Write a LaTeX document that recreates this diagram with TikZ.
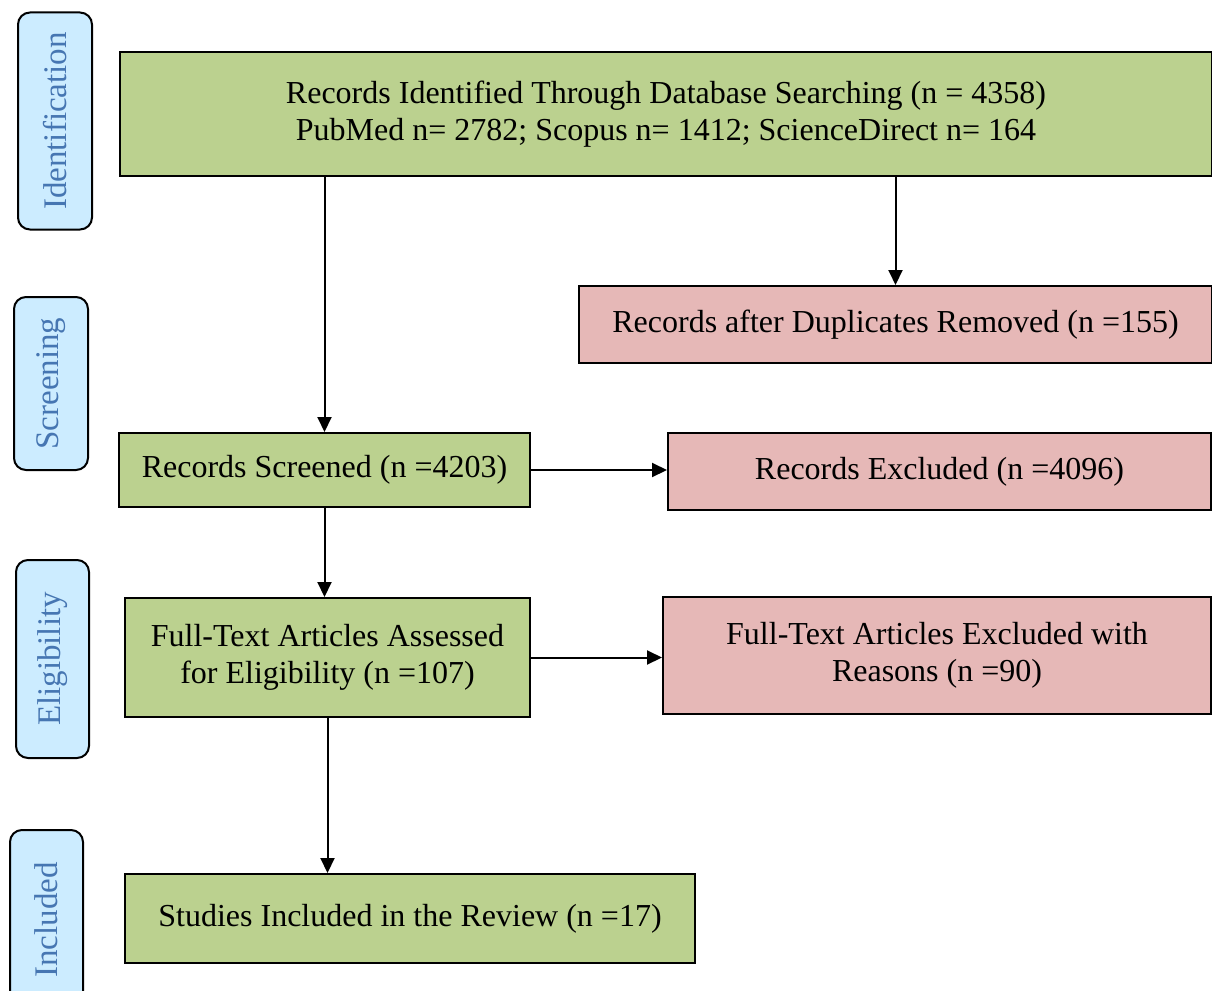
\documentclass[tikz,border=0pt]{standalone}
\usepackage{fontspec}
\setmainfont{Liberation Serif}
\usetikzlibrary{arrows.meta,calc}
\definecolor{boxgreen}{RGB}{187,209,143}
\definecolor{boxpink}{RGB}{230,184,183}
\definecolor{labfill}{RGB}{204,236,255}
\definecolor{labtext}{RGB}{70,118,178}
\tikzset{
  mainbox/.style={draw=black, line width=2pt, inner sep=0pt, align=center,
    font=\fontsize{32}{37}\selectfont},
  greenbox/.style={mainbox, fill=boxgreen},
  pinkbox/.style={mainbox, fill=boxpink},
  phase/.style={draw=black, line width=2pt, fill=labfill, rounded corners=12pt,
    inner sep=0pt, text=labtext, font=\fontsize{33}{38}\selectfont},
  arr/.style={draw=black, line width=2pt, -{Triangle[length=15pt,width=14pt]}}
}
\begin{document}
\begin{tikzpicture}[x=1pt,y=-1pt]
\useasboundingbox (0,0) rectangle (1212,990);
\clip (0,0) rectangle (1212,990);
% phase labels
\node[phase, minimum width=74pt, minimum height=217pt] (lid) at (55,121) {\rotatebox{90}{Identification}};
\node[phase, minimum width=74pt, minimum height=173pt] (lscr) at (51,383.5) {\rotatebox{90}{Screening}};
\node[phase, minimum width=73pt, minimum height=198pt] (lel) at (52.5,659) {\rotatebox{90}{Eligibility}};
\node[phase, minimum width=73pt, minimum height=180pt] (lin) at (46.5,920) {\rotatebox{90}{Included}};
% main boxes
\node[greenbox, minimum width=1092pt, minimum height=124pt] (top) at (666,114)
  {Records Identified Through Database Searching (n = 4358)\\PubMed n= 2782; Scopus n= 1412; ScienceDirect n= 164};
\node[pinkbox, minimum width=633pt, minimum height=77pt] (dup) at (895.5,324.5)
  {Records after Duplicates Removed (n =155)};
\node[greenbox, minimum width=411pt, minimum height=74pt] (rs) at (324.5,470)
  {Records Screened (n =4203)};
\node[pinkbox, minimum width=543pt, minimum height=77pt] (rex) at (939.5,471.5)
  {Records Excluded (n =4096)};
\node[greenbox, minimum width=405pt, minimum height=119pt] (fta) at (327.5,657.5)
  {Full-Text Articles Assessed\\for Eligibility (n =107)};
\node[pinkbox, minimum width=548pt, minimum height=117pt] (fte) at (937,655.5)
  {Full-Text Articles Excluded with\\Reasons (n =90)};
\node[greenbox, minimum width=570pt, minimum height=89pt] (si) at (410,918.5)
  {Studies Included in the Review (n =17)};
% connectors
\draw[arr] (top.south -| rs.north) -- (rs.north);
\draw[arr] (top.south -| dup.north) -- (dup.north);
\draw[arr] (rs.east) -- (rs.east -| rex.west);
\draw[arr] (rs.south) -- (rs.south |- fta.north);
\draw[arr] (fta.east) -- (fta.east -| fte.west);
\draw[arr] (fta.south) -- (fta.south |- si.north);
\end{tikzpicture}
\end{document}
